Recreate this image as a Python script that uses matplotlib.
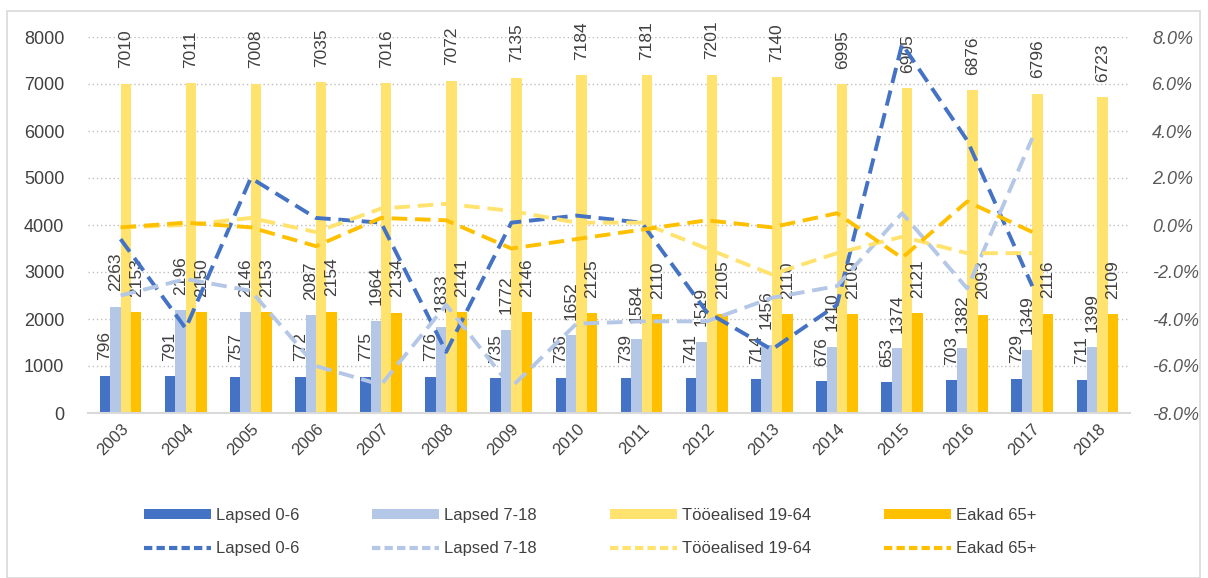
import numpy as np
import matplotlib
matplotlib.use('Agg')
import matplotlib.pyplot as plt
from matplotlib.patches import Rectangle, Patch
from matplotlib.lines import Line2D
from matplotlib.ticker import FuncFormatter

plt.rcParams['font.family'] = ['Liberation Sans', 'DejaVu Sans']

years = ['2003', '2004', '2005', '2006', '2007', '2008', '2009', '2010',
         '2011', '2012', '2013', '2014', '2015', '2016', '2017', '2018']
labels = ['Lapsed 0-6', 'Lapsed 7-18', 'Tööealised 19-64', 'Eakad 65+']

# population counts (bars)
lapsed06 = [796, 791, 757, 772, 775, 776, 735, 736, 739, 741, 714, 676, 653, 703, 729, 711]
lapsed718 = [2263, 2196, 2146, 2087, 1964, 1833, 1772, 1652, 1584, 1519, 1456, 1410, 1374, 1382, 1349, 1399]
tooealised = [7010, 7011, 7008, 7035, 7016, 7072, 7135, 7184, 7181, 7201, 7140, 6995, 6905, 6876, 6796, 6723]
eakad = [2153, 2150, 2153, 2154, 2134, 2141, 2146, 2125, 2110, 2105, 2110, 2109, 2121, 2093, 2116, 2109]

# yearly change, % (lines, 2003-2017)
ch_lapsed06 = [-0.6, -4.4, 2.0, 0.3, 0.1, -5.4, 0.1, 0.4, 0.1, -3.7, -5.3, -3.4, 7.7, 3.6, -2.6]
ch_lapsed718 = [-3.0, -2.3, -2.8, -6.0, -6.8, -3.4, -6.9, -4.2, -4.1, -4.1, -3.1, -2.6, 0.5, -2.7, 3.7]
ch_tooealised = [-0.1, 0.0, 0.3, -0.3, 0.7, 0.9, 0.6, 0.1, 0.1, -1.0, -2.1, -1.2, -0.5, -1.2, -1.2]
ch_eakad = [-0.1, 0.1, -0.1, -0.9, 0.3, 0.2, -1.0, -0.6, -0.2, 0.2, -0.1, 0.5, -1.4, 1.0, -0.3]

colors = ['#4472C4', '#B4C7E7', '#FFE36E', '#FFC000']
txt = '#404040'

fig = plt.figure(figsize=(12.08, 5.78), dpi=100)
fig.patches.append(Rectangle((7 / 1208, 0), 1193 / 1208, 1 - 11 / 578,
                             transform=fig.transFigure, fill=False,
                             edgecolor='#D9D9D9', lw=1.2))
ax = fig.add_axes([88 / 1208, 1 - 413 / 578, 1042 / 1208, 376 / 578])

x = np.arange(len(years))
w = 0.16
series = [lapsed06, lapsed718, tooealised, eakad]
for k, vals in enumerate(series):
    pos = x + (k - 1.5) * w
    ax.bar(pos, vals, w, color=colors[k], zorder=2)
    for xp, v in zip(pos, vals):
        ax.annotate(str(v), (xp, v), xytext=(0, 11), textcoords='offset points',
                    rotation=90, ha='center', va='bottom', fontsize=12.5,
                    color=txt, zorder=3)

ax.set_xlim(-0.5, len(years) - 0.5)
ax.set_ylim(0, 8000)
ax.set_yticks(range(0, 8001, 1000))
ax.set_xticks(x)
ax.set_xticklabels(years, rotation=45, ha='right', rotation_mode='anchor',
                   fontsize=12, color=txt)
ax.tick_params(axis='y', labelsize=13, labelcolor=txt, length=0, pad=17)
ax.tick_params(axis='x', length=0, pad=6)
ax.grid(axis='y', linestyle=(0, (1, 2)), color='#BFBFBF', lw=1, zorder=0)
ax.set_axisbelow(True)
for s in ['top', 'right', 'left']:
    ax.spines[s].set_visible(False)
ax.spines['bottom'].set_color('#D9D9D9')
ax.spines['bottom'].set_linewidth(1.5)

ax2 = ax.twinx()
xl = x[:len(ch_lapsed06)]
changes = [ch_lapsed06, ch_lapsed718, ch_tooealised, ch_eakad]
for k, vals in enumerate(changes):
    ax2.plot(xl, vals, color=colors[k], lw=2.8, linestyle=(0, (4, 2)), zorder=4)
ax2.set_ylim(-8, 8)
ax2.set_yticks(np.arange(-8, 8.1, 2))
ax2.yaxis.set_major_formatter(FuncFormatter(lambda v, p: '%.1f%%' % v))
for t in ax2.get_yticklabels():
    t.set_fontstyle('italic')
ax2.tick_params(axis='y', labelsize=13, labelcolor='#595959', length=0, pad=16)
for s in ['top', 'right', 'left', 'bottom']:
    ax2.spines[s].set_visible(False)

handles = []
for k in range(4):
    handles.append(Patch(facecolor=colors[k], label=labels[k]))
    handles.append(Line2D([], [], color=colors[k], lw=3, linestyle=(0, (2, 1)), label=labels[k]))
fig.legend(handles=handles, ncol=4, loc='center', bbox_to_anchor=(590 / 1208, 1 - 532 / 578),
           frameon=False, fontsize=12, handlelength=4.0, handleheight=0.5,
           columnspacing=4.4, labelspacing=1.1, handletextpad=0.3,
           labelcolor=txt)

fig.savefig('out.png', dpi=100)
